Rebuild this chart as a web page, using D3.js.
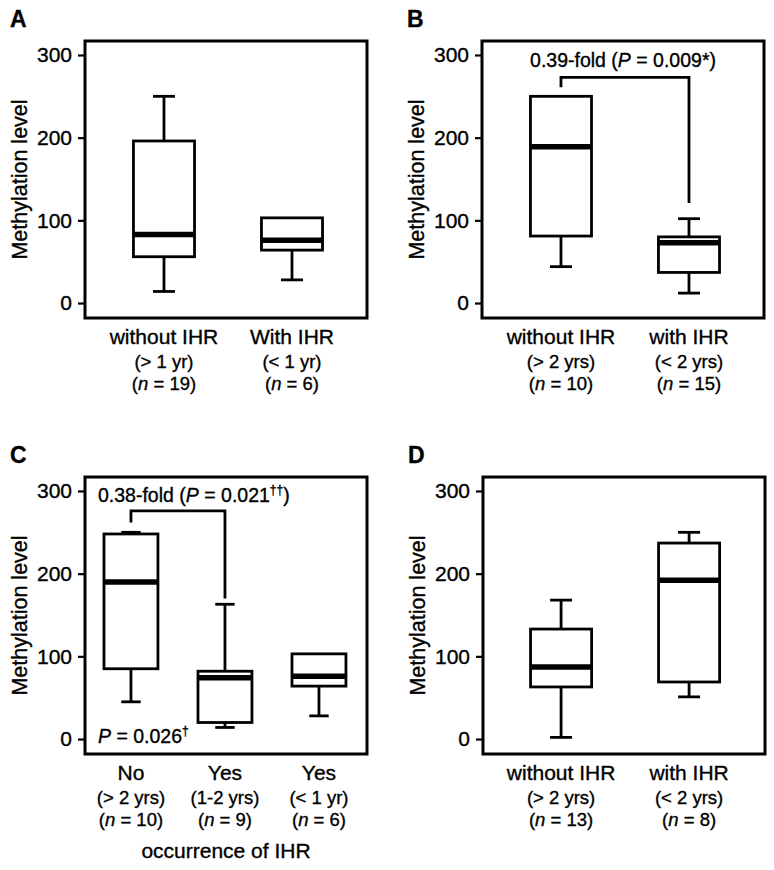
<!DOCTYPE html>
<html>
<head>
<meta charset="utf-8">
<script src="https://cdn.jsdelivr.net/npm/d3@7"></script>
<style>
  html, body { margin: 0; padding: 0; background: #fff; }
  svg { display: block; }
  svg text { stroke: #000; stroke-width: 0.35px; fill: #000; }
</style>
</head>
<body>
<svg id="chart" width="774" height="870"></svg>
<script>
// ---------------- DATA ----------------
const yTicks = [0, 100, 200, 300];
const yLabel = "Methylation level";

// Panel A
const catsA = ["without IHR", "With IHR"];
const subA = ["(> 1 yr)", "(< 1 yr)"];
const nA = [19, 6];
// [low whisker, Q1, median, Q3, high whisker]
const boxA = [[14, 56, 83, 196, 250], [28, 64, 76, 103, 103]];

// Panel B
const catsB = ["without IHR", "with IHR"];
const subB = ["(> 2 yrs)", "(< 2 yrs)"];
const nB = [10, 15];
const boxB = [[44, 81, 189, 250, 250], [12, 37, 73, 80, 102]];
const bracketB = [261, 273, 121]; // left end, top, right end
const noteB = ["0.39-fold (", "P", " = 0.009*)"];

// Panel C
const catsC = ["No", "Yes", "Yes"];
const subC = ["(> 2 yrs)", "(1-2 yrs)", "(< 1 yr)"];
const nC = [10, 9, 6];
const boxC = [[45, 85, 190, 248, 250], [14, 20, 74, 82, 163], [28, 64, 76, 103, 103]];
const bracketC = [262, 276, 170];
const noteC = ["0.38-fold (", "P", " = 0.021", "††", ")"];
const noteC2 = ["P", " = 0.026", "†"];
const xTitleC = "occurrence of IHR";

// Panel D
const catsD = ["without IHR", "with IHR"];
const subD = ["(> 2 yrs)", "(< 2 yrs)"];
const nD = [13, 8];
const boxD = [[2, 63, 87, 133, 168], [51, 69, 192, 237, 250]];

// ---------------- LAYOUT ----------------
const FONT = "'Liberation Sans', Arial, Helvetica, sans-serif";
const FW = 282, FH = 277;
const svg = d3.select("#chart");

const panels = [
  {letter: "A", left: 85,  top: 41,  cats: catsA, sub: subA, n: nA, box: boxA, xdom: [0.383, 2.586], bw: 0.477},
  {letter: "B", left: 482, top: 41,  cats: catsB, sub: subB, n: nB, box: boxB, xdom: [0.383, 2.586], bw: 0.477, bracket: bracketB},
  {letter: "C", left: 85,  top: 477, cats: catsC, sub: subC, n: nC, box: boxC, xdom: [0.511, 3.511], bw: 0.574, bracket: bracketC, xtitle: xTitleC},
  {letter: "D", left: 483, top: 477, cats: catsD, sub: subD, n: nD, box: boxD, xdom: [0.39, 2.593], bw: 0.477}
];

panels.forEach(p => {
  const g = svg.append("g").attr("transform", `translate(${p.left},${p.top})`);
  const y = d3.scaleLinear().domain([-18.1, 316.9]).range([FH, 0]);
  const x = d3.scaleLinear().domain(p.xdom).range([0, FW]);
  const halfW = (x(1 + p.bw) - x(1)) / 2;
  const capHalf = halfW * 0.36;
  const LW = 2.8;

  // panel letter
  g.append("text").attr("x", -75).attr("y", -14)
    .attr("font-family", FONT).attr("font-weight", "bold").attr("font-size", 23)
    .text(p.letter);

  // y axis
  const yAxis = d3.axisLeft(y).tickValues(yTicks).tickSize(7).tickPadding(6).tickFormat(d3.format("d"));
  const ax = g.append("g").call(yAxis);
  ax.select(".domain").remove();
  ax.selectAll(".tick line").attr("stroke", "#000").attr("stroke-width", 2.2);
  ax.selectAll(".tick text").attr("font-family", FONT).attr("font-size", 21).attr("fill", "#000");

  // y label
  g.append("text")
    .attr("transform", `translate(-58,${FH / 2}) rotate(-90)`)
    .attr("text-anchor", "middle")
    .attr("font-family", FONT).attr("font-size", 21.5)
    .text(yLabel);

  // boxes
  p.box.forEach((s, i) => {
    const cx = x(i + 1);
    const [lo, q1, med, q3, hi] = s;
    const bg = g.append("g").attr("stroke", "#000").attr("fill", "none");
    if (hi > q3) {
      bg.append("line").attr("x1", cx).attr("x2", cx).attr("y1", y(q3)).attr("y2", y(hi)).attr("stroke-width", LW);
      bg.append("line").attr("x1", cx - capHalf).attr("x2", cx + capHalf).attr("y1", y(hi)).attr("y2", y(hi)).attr("stroke-width", LW);
    }
    if (lo < q1) {
      bg.append("line").attr("x1", cx).attr("x2", cx).attr("y1", y(q1)).attr("y2", y(lo)).attr("stroke-width", LW);
      bg.append("line").attr("x1", cx - capHalf).attr("x2", cx + capHalf).attr("y1", y(lo)).attr("y2", y(lo)).attr("stroke-width", LW);
    }
    bg.append("rect").attr("x", cx - halfW).attr("width", 2 * halfW)
      .attr("y", y(q3)).attr("height", y(q1) - y(q3))
      .attr("fill", "#fff").attr("stroke-width", LW);
    bg.append("line").attr("x1", cx - halfW).attr("x2", cx + halfW).attr("y1", y(med)).attr("y2", y(med)).attr("stroke-width", 5.5);
  });

  // bracket
  if (p.bracket) {
    const [l, t, r] = p.bracket;
    g.append("path")
      .attr("d", `M${x(1)},${y(l)}V${y(t)}H${x(2)}V${y(r)}`)
      .attr("fill", "none").attr("stroke", "#000").attr("stroke-width", LW);
  }

  // frame
  g.append("rect").attr("x", 0).attr("y", 0).attr("width", FW).attr("height", FH)
    .attr("fill", "none").attr("stroke", "#000").attr("stroke-width", 3);

  // category labels
  p.cats.forEach((c, i) => {
    const cx = x(i + 1);
    g.append("text").attr("x", cx).attr("y", FH + 26).attr("text-anchor", "middle")
      .attr("font-family", FONT).attr("font-size", 21).text(c);
    g.append("text").attr("x", cx).attr("y", FH + 50).attr("text-anchor", "middle")
      .attr("font-family", FONT).attr("font-size", 18.5).text(p.sub[i]);
    const t = g.append("text").attr("x", cx).attr("y", FH + 72).attr("text-anchor", "middle")
      .attr("font-family", FONT).attr("font-size", 18.5);
    t.append("tspan").text("(");
    t.append("tspan").attr("font-style", "italic").text("n");
    t.append("tspan").text(" = " + p.n[i] + ")");
  });

  if (p.xtitle) {
    g.append("text").attr("x", FW / 2).attr("y", FH + 104).attr("text-anchor", "middle")
      .attr("font-family", FONT).attr("font-size", 21).text(p.xtitle);
  }

  // annotations
  if (p.letter === "B") {
    const t = g.append("text").attr("x", FW / 2).attr("y", y(285)).attr("text-anchor", "middle")
      .attr("font-family", FONT).attr("font-size", 19.5);
    t.append("tspan").text(noteB[0]);
    t.append("tspan").attr("font-style", "italic").text(noteB[1]);
    t.append("tspan").text(noteB[2]);
  }
  if (p.letter === "C") {
    const t = g.append("text").attr("x", 13).attr("y", y(287))
      .attr("font-family", FONT).attr("font-size", 19.5);
    t.append("tspan").text(noteC[0]);
    t.append("tspan").attr("font-style", "italic").text(noteC[1]);
    t.append("tspan").text(noteC[2]);
    t.append("tspan").attr("font-size", 12).attr("dy", -8).text(noteC[3]);
    t.append("tspan").attr("dy", 8).text(noteC[4]);

    const t2 = g.append("text").attr("x", 13).attr("y", y(-5))
      .attr("font-family", FONT).attr("font-size", 19.5);
    t2.append("tspan").attr("font-style", "italic").text(noteC2[0]);
    t2.append("tspan").text(noteC2[1]);
    t2.append("tspan").attr("font-size", 12).attr("dy", -8).text(noteC2[2]);
  }
});
</script>
</body>
</html>
